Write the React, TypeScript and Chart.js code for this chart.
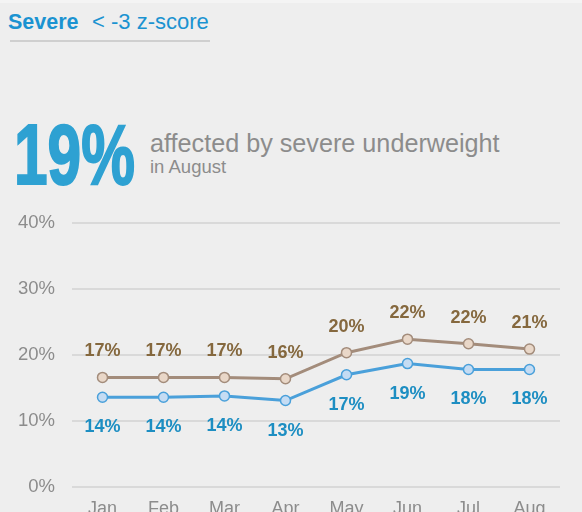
import React, { useEffect, useRef, useLayoutEffect } from "react";
import { Chart, registerables } from "chart.js";

Chart.register(...registerables);

const months = ["Jan", "Feb", "Mar", "Apr", "May", "Jun", "Jul", "Aug"];
const moderateSevere = [16.6, 16.6, 16.6, 16.4, 20.35, 22.4, 21.7, 20.9];
const severe = [13.6, 13.6, 13.8, 13.1, 17.0, 18.7, 17.8, 17.8];
const yTicks = [0, 10, 20, 30, 40];
const headlineValue = "19%";

const BROWN_LINE = "#a38c7b";
const BROWN_FILL = "#e9d7c8";
const BROWN_TEXT = "#85683e";
const BLUE_LINE = "#4aa0da";
const BLUE_FILL = "#c5dcf3";
const BLUE_TEXT = "#1d8ec2";

const labelPlugin = {
  id: "pointLabels",
  afterDatasetsDraw(chart: any) {
    const ctx = chart.ctx;
    ctx.save();
    ctx.font = "bold 18px 'Liberation Sans', Arial, sans-serif";
    ctx.textAlign = "center";
    ctx.textBaseline = "middle";
    chart.data.datasets.forEach((ds: any, i: number) => {
      const meta = chart.getDatasetMeta(i);
      meta.data.forEach((pt: any, j: number) => {
        const v = ds.data[j];
        const text = Math.round(v) + "%";
        if (i === 0) {
          ctx.fillStyle = BROWN_TEXT;
          ctx.fillText(text, pt.x, pt.y - 26);
        } else {
          ctx.fillStyle = BLUE_TEXT;
          ctx.fillText(text, pt.x, pt.y + 30);
        }
      });
    });
    ctx.restore();
  },
};

export default function App() {
  const canvasRef = useRef<HTMLCanvasElement | null>(null);
  const bigRef = useRef<HTMLSpanElement | null>(null);

  useLayoutEffect(() => {
    const el = bigRef.current;
    if (el) {
      el.style.transform = "none";
      const w = el.getBoundingClientRect().width;
      const target = 121;
      if (w > 0) el.style.transform = `scaleX(${target / w})`;
    }
  }, []);

  useEffect(() => {
    if (!canvasRef.current) return;
    const chart = new Chart(canvasRef.current, {
      type: "line",
      data: {
        labels: months,
        datasets: [
          {
            data: moderateSevere,
            borderColor: BROWN_LINE,
            borderWidth: 3,
            pointRadius: 5,
            pointBorderWidth: 1.5,
            pointBackgroundColor: BROWN_FILL,
            pointBorderColor: BROWN_LINE,
            tension: 0,
          },
          {
            data: severe,
            borderColor: BLUE_LINE,
            borderWidth: 3,
            pointRadius: 5,
            pointBorderWidth: 1.5,
            pointBackgroundColor: BLUE_FILL,
            pointBorderColor: BLUE_LINE,
            tension: 0,
          },
        ],
      },
      options: {
        animation: false,
        responsive: false,
        devicePixelRatio: 1,
        layout: { padding: { left: 0, right: 22, top: 33, bottom: 0 } },
        plugins: { legend: { display: false }, tooltip: { enabled: false } },
        scales: {
          x: {
            offset: true,
            grid: { display: false, drawTicks: false },
            border: { display: false },
            ticks: {
              color: "#8c8c8c",
              padding: 11,
              font: { family: "'Liberation Sans', Arial, sans-serif", size: 18 },
            },
            afterFit(scale: any) {
              scale.height = 40;
            },
          },
          y: {
            min: 0,
            max: 40,
            afterBuildTicks(scale: any) {
              scale.ticks = yTicks.map((v) => ({ value: v }));
            },
            grid: { color: "#d9d9d9", lineWidth: 2, drawTicks: false },
            border: { display: false },
            ticks: {
              color: "#8c8c8c",
              padding: 17,
              font: { family: "'Liberation Sans', Arial, sans-serif", size: 18.5 },
              callback: (v: any) => v + "%",
            },
            afterFit(scale: any) {
              scale.width = 72;
            },
          },
        },
      },
      plugins: [labelPlugin],
    });
    return () => chart.destroy();
  }, []);

  const sans = "'Liberation Sans', Arial, sans-serif";
  return (
    <div
      style={{
        position: "fixed",
        left: 0,
        top: 0,
        width: 582,
        height: 512,
        overflow: "hidden",
        background: "#eeeeee",
        fontFamily: sans,
      }}
    >
      <div style={{ position: "absolute", left: 0, top: 0, width: 582, height: 3, background: "#f4f4f4" }} />
      <span
        style={{
          position: "absolute",
          left: 8,
          top: 11.8,
          fontSize: 21.5,
          lineHeight: 1,
          fontWeight: "bold",
          color: "#1b93d1",
          whiteSpace: "nowrap",
        }}
      >
        Severe
      </span>
      <span
        style={{
          position: "absolute",
          left: 92,
          top: 11.4,
          fontSize: 22,
          lineHeight: 1,
          color: "#1b93d1",
          whiteSpace: "nowrap",
        }}
      >
        {"< -3 z-score"}
      </span>
      <div style={{ position: "absolute", left: 10, top: 40, width: 200, height: 2, background: "#cfcfcf" }} />
      <span
        ref={bigRef}
        style={{
          position: "absolute",
          left: 14,
          top: 112,
          fontSize: 85,
          lineHeight: 1,
          fontWeight: "bold",
          fontFamily: sans,
          color: "#2ea1d2",
          WebkitTextStroke: "2px #2ea1d2",
          whiteSpace: "nowrap",
          transformOrigin: "0 0",
          display: "inline-block",
        }}
      >
        {headlineValue}
      </span>
      <span
        style={{
          position: "absolute",
          left: 150,
          top: 130.6,
          fontSize: 25.2,
          lineHeight: 1,
          color: "#8c8c8c",
          whiteSpace: "nowrap",
        }}
      >
        affected by severe underweight
      </span>
      <span
        style={{
          position: "absolute",
          left: 150,
          top: 158.3,
          fontSize: 18.5,
          lineHeight: 1,
          color: "#8c8c8c",
          whiteSpace: "nowrap",
        }}
      >
        in August
      </span>
      <canvas
        ref={canvasRef}
        width={582}
        height={337}
        style={{ position: "absolute", left: 0, top: 190, width: 582, height: 337 }}
      />
    </div>
  );
}
